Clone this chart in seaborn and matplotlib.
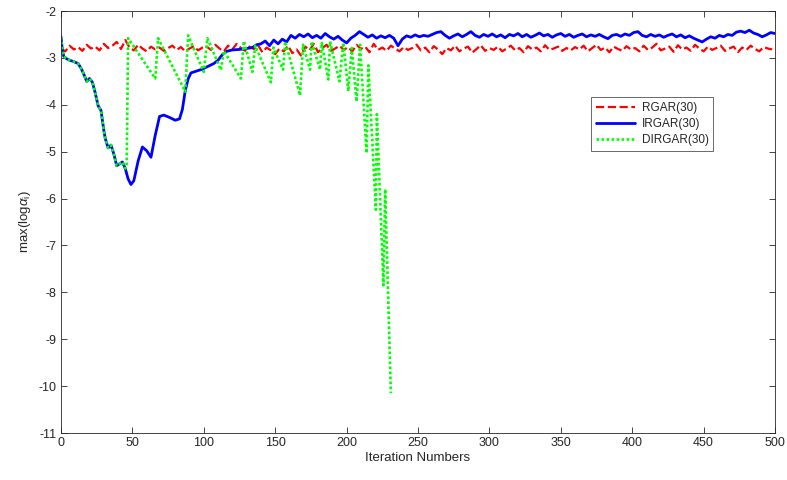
import numpy as np
import pandas as pd
import matplotlib
matplotlib.use("Agg")
import matplotlib.pyplot as plt
import seaborn as sns

# ---------------- data ----------------
# RGAR(30): iterations 0,3,6,...
rgar_vals = [
    -2.80, -2.86, -2.74, -2.82, -2.77, -2.85, -2.72, -2.80, -2.76, -2.84, -2.70, -2.79, -2.74, -2.66, -2.81, -2.62, -2.78,
    -2.84, -2.72, -2.80, -2.86, -2.76, -2.82, -2.78, -2.85, -2.79, -2.74, -2.83, -2.77, -2.86, -2.80, -2.75, -2.84, -2.78,
    -2.76, -2.83, -2.72, -2.80, -2.86, -2.74, -2.82, -2.70, -2.79, -2.85, -2.76, -2.81, -2.73, -2.88, -2.78, -2.84, -2.92,
    -2.80, -2.86, -2.74, -2.90, -2.82, -2.95, -2.76, -2.84, -2.70, -2.88, -2.79, -2.72, -2.85, -2.80, -2.74, -2.83, -2.77,
    -2.86, -2.72, -2.81, -2.76, -2.88, -2.70, -2.83, -2.78, -2.85, -2.74, -2.80, -2.86, -2.77, -2.83, -2.79, -2.72, -2.84,
    -2.78, -2.88, -2.75, -2.82, -2.92, -2.79, -2.84, -2.74, -2.86, -2.80, -2.76, -2.89, -2.81, -2.73, -2.85, -2.79, -2.83,
    -2.76, -2.86, -2.80, -2.74, -2.84, -2.79, -2.88, -2.75, -2.82, -2.78, -2.86, -2.73, -2.83, -2.80, -2.76, -2.85, -2.79,
    -2.84, -2.77, -2.82, -2.74, -2.86, -2.79, -2.72, -2.83, -2.78, -2.88, -2.76, -2.81, -2.85, -2.75, -2.82, -2.79, -2.86,
    -2.74, -2.83, -2.78, -2.70, -2.84, -2.80, -2.76, -2.87, -2.73, -2.82, -2.78, -2.85, -2.72, -2.80, -2.86, -2.76, -2.83,
    -2.79, -2.74, -2.85, -2.80, -2.76, -2.88, -2.78, -2.83, -2.74, -2.81, -2.86, -2.77, -2.80, -2.82,
]
rgar_step = 3

# IRGAR(30): smooth early part (iteration, value)
irgar_iter_a = [0, 1, 2, 4, 6, 9, 12, 14, 16, 18, 20, 22, 24, 26, 28, 30, 31, 33, 35, 37, 39, 41, 43, 45,
                47, 49, 51, 54, 57, 60, 63, 66, 69, 72, 76, 80, 83, 85, 87, 89, 91, 95, 99, 103, 107, 110,
                113, 116, 120, 125, 130, 134, 137]
irgar_val_a = [-2.55, -2.85, -2.97, -3.02, -3.05, -3.08, -3.12, -3.22, -3.35, -3.50, -3.44, -3.52, -3.75,
               -4.02, -4.12, -4.55, -4.72, -4.92, -4.86, -5.05, -5.30, -5.26, -5.22, -5.36, -5.58, -5.70,
               -5.62, -5.20, -4.90, -4.98, -5.12, -4.65, -4.25, -4.22, -4.27, -4.33, -4.30, -4.10, -3.70,
               -3.45, -3.32, -3.28, -3.24, -3.18, -3.12, -3.05, -2.93, -2.86, -2.83, -2.82, -2.80, -2.78, -2.72]
# IRGAR(30): noisy later part, iterations 140,143,...
irgar_start_b = 140
irgar_step_b = 3
irgar_val_b = [
    -2.70, -2.64, -2.74, -2.62, -2.70, -2.60, -2.66, -2.52, -2.58, -2.50, -2.55, -2.49, -2.57, -2.52, -2.58,
    -2.48, -2.55, -2.60, -2.54, -2.62, -2.68, -2.58, -2.52, -2.44, -2.50, -2.56, -2.51, -2.58, -2.53, -2.57,
    -2.52, -2.58, -2.74, -2.60, -2.53, -2.56, -2.51, -2.55, -2.52, -2.54, -2.50, -2.46, -2.44, -2.52, -2.58,
    -2.53, -2.49, -2.55, -2.50, -2.44, -2.52, -2.56, -2.50, -2.54, -2.49, -2.55, -2.51, -2.57, -2.50, -2.53,
    -2.48, -2.55, -2.50, -2.56, -2.52, -2.47, -2.53, -2.50, -2.56, -2.51, -2.48, -2.54, -2.50, -2.56, -2.52,
    -2.49, -2.55, -2.51, -2.54, -2.50, -2.55, -2.59, -2.52, -2.50, -2.54, -2.49, -2.52, -2.46, -2.44, -2.52,
    -2.55, -2.50, -2.54, -2.51, -2.56, -2.52, -2.49, -2.55, -2.51, -2.57, -2.53, -2.58, -2.62, -2.66, -2.60,
    -2.55, -2.58, -2.52, -2.55, -2.50, -2.52, -2.45, -2.43, -2.46, -2.41, -2.47, -2.50, -2.55, -2.51, -2.46,
    -2.48,
]

# DIRGAR(30): (iteration, value)
dirgar_iter = [0, 1, 2, 4, 6, 9, 12, 14, 16, 18, 20, 22, 24, 26, 28, 30, 31, 33, 35, 37, 39, 41, 43, 45,
               46, 47, 66, 68, 87, 89, 100, 102.5, 112, 114, 126, 128, 134, 136, 147, 148.7, 155.5, 157,
               167.4, 169.5, 174.4, 175.5, 181.4, 182.6, 187.2, 188.4, 195, 197.7, 201.2, 203.6, 207,
               209.4, 214, 215.2, 220.5, 221.2, 225.8, 227, 231]
dirgar_val = [-2.55, -2.85, -2.97, -3.02, -3.05, -3.08, -3.12, -3.22, -3.35, -3.50, -3.44, -3.52, -3.75,
              -4.02, -4.12, -4.55, -4.72, -4.92, -4.86, -5.05, -5.30, -5.26, -5.22, -5.36,
              -5.30, -2.58, -3.44, -2.58, -3.72, -2.52, -3.30, -2.58, -3.26, -2.85, -3.44, -2.64, -3.30,
              -2.74, -3.52, -2.78, -3.25, -2.65, -3.80, -2.72, -3.25, -2.65, -3.25, -2.68, -3.46, -2.65,
              -3.50, -2.68, -3.71, -2.79, -3.93, -2.72, -5.03, -3.16, -6.24, -4.20, -7.85, -5.80, -10.15]

x_ticks = [0, 50, 100, 150, 200, 250, 300, 350, 400, 450, 500]
y_ticks = [-11, -10, -9, -8, -7, -6, -5, -4, -3, -2]
series_names = ["RGAR(30)", "IRGAR(30)", "DIRGAR(30)"]

# ---------------- frames ----------------
df_r = pd.DataFrame({"it": rgar_step * np.arange(len(rgar_vals)), "v": rgar_vals})
irgar_iter = list(irgar_iter_a) + list(irgar_start_b + irgar_step_b * np.arange(len(irgar_val_b)))
df_b = pd.DataFrame({"it": irgar_iter, "v": list(irgar_val_a) + list(irgar_val_b)})
df_g = pd.DataFrame({"it": dirgar_iter, "v": dirgar_val})

# ---------------- style ----------------
sns.set_theme(style="white")
plt.rcParams["font.family"] = ["Liberation Sans", "DejaVu Sans"]
plt.rcParams["mathtext.fontset"] = "custom"
plt.rcParams["mathtext.rm"] = "Liberation Sans"
plt.rcParams["mathtext.it"] = "Liberation Sans:italic"

fig = plt.figure(figsize=(7.87, 4.80), dpi=100)
ax = fig.add_axes([61 / 787, 1 - 433 / 480, (775 - 61) / 787, (433 - 11) / 480])

sns.lineplot(data=df_r, x="it", y="v", ax=ax, color=(1, 0, 0), lw=1.6, linestyle="--",
             estimator=None, sort=False, label=series_names[0])
sns.lineplot(data=df_b, x="it", y="v", ax=ax, color=(0, 0, 1), lw=2.0, linestyle="-",
             estimator=None, sort=False, label=series_names[1])
sns.lineplot(data=df_g, x="it", y="v", ax=ax, color=(0, 1, 0), lw=1.9, linestyle=(0, (1, 0.9)),
             estimator=None, sort=False, label=series_names[2])

ax.set_xlim(0, 500)
ax.set_ylim(-11, -2)
ax.set_xticks(x_ticks)
ax.set_yticks(y_ticks)
ax.set_xticklabels([str(t) for t in x_ticks])
ax.set_yticklabels([str(t) for t in y_ticks])

tc = (0.15, 0.15, 0.15)
for s in ax.spines.values():
    s.set_visible(True)
    s.set_color(tc)
    s.set_linewidth(0.6)
ax.tick_params(axis="both", which="both", direction="in", length=4, width=0.6, color=tc,
               labelcolor=tc, labelsize=9, top=True, right=True, bottom=True, left=True, pad=3)

ax.set_xlabel("Iteration Numbers", fontsize=9.5, color=tc, labelpad=2)
ax.set_ylabel(r"max(log$\alpha_{\mathrm{i}}$)", fontsize=9.5, color=tc, labelpad=4)

leg = ax.legend(loc="upper left", bbox_to_anchor=((591 - 61) / 714, (433 - 97) / 422),
                fontsize=8.5, frameon=True, fancybox=False, handlelength=3.3,
                borderpad=0.4, labelspacing=0.35, handletextpad=0.6, borderaxespad=0)
leg.get_frame().set_edgecolor(tc)
leg.get_frame().set_linewidth(0.6)
for t in leg.get_texts():
    t.set_color(tc)

fig.savefig("out.png", dpi=100, facecolor="white")
